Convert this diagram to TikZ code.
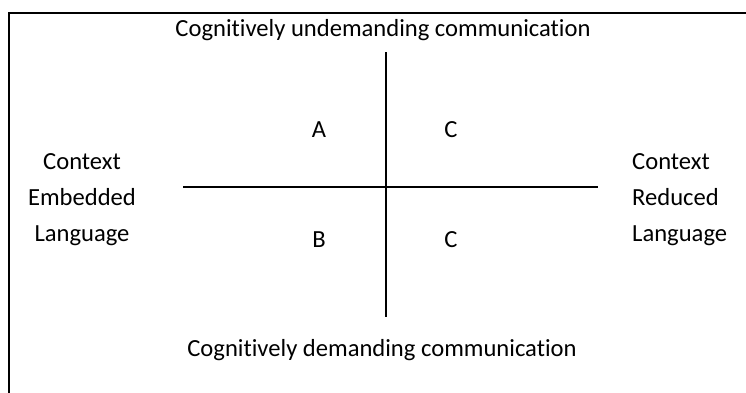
\documentclass[tikz,border=0pt]{standalone}
\usepackage{fontspec}
\setmainfont[Ligatures=NoCommon]{Carlito}
\begin{document}
\begin{tikzpicture}[x=1pt,y=-1pt,
  lbl/.style={inner sep=0pt,font=\fontsize{24.6}{36}\selectfont},
  axis/.style={line width=1.2pt,black}]
\useasboundingbox (0,0) rectangle (746,392);
\draw[line width=1.6pt] (9,400) -- (9,13) -- (760,13);
\coordinate (vt) at (386,52);
\coordinate (vb) at (386,317);
\coordinate (hl) at (183,187);
\coordinate (hr) at (598,187);
\draw[axis] (vt) -- (vb);
\draw[axis] (hl) -- (hr);
\node[lbl] (top) at (383,30) {Cognitively undemanding communication};
\node[lbl] (bot) at (382,350) {Cognitively demanding communication};
\node[lbl] (a) at (319,130) {A};
\node[lbl] (c1) at (451,130) {C};
\node[lbl] (b) at (319,240) {B};
\node[lbl] (c2) at (451,240) {C};
\node[lbl,align=center] (left) at (82,200) {Context\\Embedded\\Language};
\node[lbl,align=left,anchor=west] (right) at (632,200) {Context\\Reduced\\Language};
\end{tikzpicture}
\end{document}
